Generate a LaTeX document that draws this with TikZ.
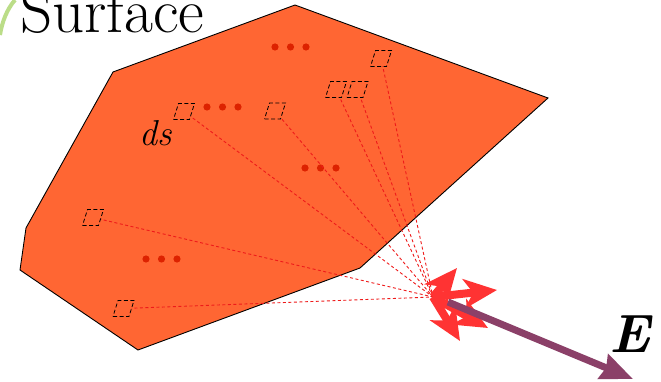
\documentclass[tikz,border=0pt]{standalone}
\usepackage{fontspec}
\usepackage{amsmath,amssymb}
\usetikzlibrary{arrows.meta}
\definecolor{patch}{RGB}{255,102,51}
\definecolor{dotred}{RGB}{221,34,0}
\definecolor{rayred}{RGB}{238,26,26}
\definecolor{burstred}{RGB}{255,51,51}
\definecolor{field}{RGB}{139,64,104}
\definecolor{leaf}{RGB}{187,221,136}
\tikzset{
  surf/.style={draw=black, line width=0.9pt, fill=patch, line join=miter},
  dsbox/.style={draw=black, line width=0.8pt, dash pattern=on 4pt off 2.5pt,
              fill=patch},
  ray/.style={draw=rayred, line width=0.9pt, dash pattern=on 3pt off 2.5pt},
  dot/.style={fill=dotred},
  burst/.style={draw=burstred, line width=8pt,
              -{Stealth[length=33pt, width=29pt, inset=9pt]}},
  efield/.style={draw=field, line width=7pt,
              -{Stealth[length=32pt, width=26pt, inset=3pt]}},
  lbl/.style={inner sep=0pt, anchor=base west, text=black},
}

\begin{document}
\begin{tikzpicture}[x=1pt,y=-1pt]
  \useasboundingbox (0,0) rectangle (661,382);

  % green rim at the corner
  \draw[leaf, line width=4pt] (0,35) .. controls (2,22) and (7,9) .. (15,0);
  \node[lbl] (title) at (20,33) {\fontsize{63}{63}\selectfont Surface};

  % the surface patch
  \draw[surf] (113,72) -- (295,5) -- (548,98) -- (360,268) -- (138,350)
              -- (20,270) -- (26,228) -- cycle;

  % centres of the elements ds
  \coordinate (b1) at (184,111.5);
  \coordinate (b2) at (275,111);
  \coordinate (b3) at (336,89.5);
  \coordinate (b4) at (357.5,89.5);
  \coordinate (b5) at (381,58.5);
  \coordinate (b6) at (93,217.5);
  \coordinate (b7) at (123.5,308.5);
  \coordinate (focus) at (433,297);

  % dots
  \foreach \x/\y in {275/47, 207/107, 305/168, 146/259}
    \foreach \d in {0,15.5,31}
      \fill[dot] (\x+\d,\y) circle (3.6);

  % rays to the field point
  \foreach \b in {b1,b2,b3,b4,b5,b6,b7}
    \draw[ray] (\b) -- (focus);

  % elements ds
  \foreach \b in {b1,b2,b3,b4,b5,b6,b7}
    \draw[dsbox, shift={(\b)}] (-10.5,8) -- (5.5,8) -- (10.5,-8) -- (-5.5,-8) -- cycle;
  \node[lbl] (ds) at (139,146) {\fontsize{36}{36}\selectfont\itshape ds};

  % contributions
  \coordinate (t1) at (457,268);
  \coordinate (t2) at (497,290);
  \coordinate (t3) at (460,341);
  \coordinate (t4) at (488,328);
  \foreach \t in {t1,t2,t3,t4}
    \draw[burst] (focus) -- (\t);

  % resulting field
  \coordinate (e0) at (448,302);
  \coordinate (e1) at (633,379);
  \draw[efield] (e0) -- (e1);
  \node[lbl] (E) at (609,352) {\fontsize{54}{54}\selectfont\bfseries\itshape E};
\end{tikzpicture}
\end{document}
